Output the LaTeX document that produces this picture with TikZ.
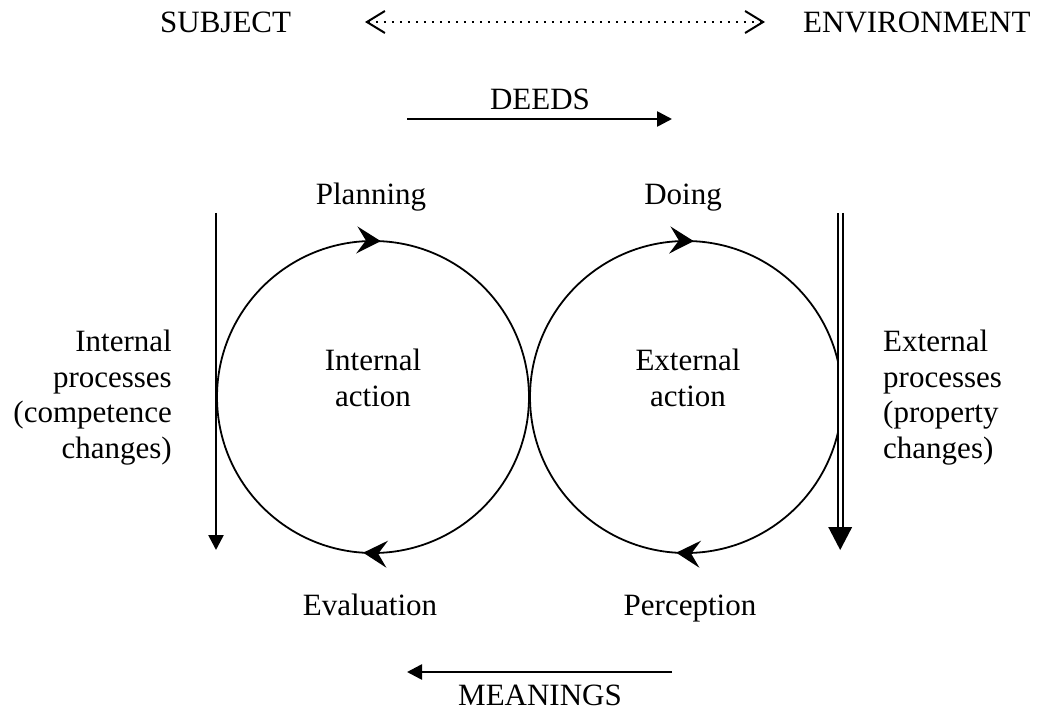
\documentclass[tikz,border=0pt]{standalone}
\usepackage{fontspec}
\setmainfont{Liberation Serif}
\usetikzlibrary{arrows.meta,decorations.markings}
\begin{document}
\begin{tikzpicture}[x=1pt,y=-1pt,
  lbl/.style={inner sep=0pt,font=\fontsize{31}{35.5}\selectfont},
  circ/.style={line width=1.8pt},
  cycmark/.style={postaction={decorate,decoration={markings,
     mark=at position #1 with {\arrow{Stealth[length=24pt,width=27pt,inset=9pt]}}}}},
  flow/.style={line width=2.6pt,-{Triangle[length=15pt,width=15pt]}}
]
\useasboundingbox (0,0) rectangle (1038,711);
% top labels
\node[lbl,anchor=base west] (subj) at (160,33) {SUBJECT};
\node[lbl,anchor=base west] (env) at (803,33) {ENVIRONMENT};
\coordinate (dl) at (365,22);
\coordinate (dr) at (765,22);
\draw[line width=2pt,dash pattern=on 2pt off 6pt,
  {Straight Barb[length=18pt,width=22pt,line width=2pt]}-{Straight Barb[length=18pt,width=22pt,line width=2pt]}] (dl) -- (dr);
% deeds
\node[lbl,anchor=base] (deeds) at (540,110) {DEEDS};
\coordinate (da) at (407,119);
\coordinate (db) at (672,119);
\draw[flow] (da) -- (db);
% circles
\coordinate (cl) at (373,397);
\coordinate (cr) at (686,397);
\draw[circ,cycmark=0.258,cycmark=0.760] (cl) ++(-156,0) arc[start angle=180,end angle=540,radius=156];
\draw[circ,cycmark=0.258,cycmark=0.760] (cr) ++(-156,0) arc[start angle=180,end angle=540,radius=156];
% labels on circles
\node[lbl,anchor=base] (plan) at (371,205) {Planning};
\node[lbl,anchor=base] (doing) at (683,205) {Doing};
\node[lbl,anchor=base] (eval) at (370,615) {Evaluation};
\node[lbl,anchor=base] (perc) at (690,615) {Perception};
\node[lbl,anchor=north,align=center] (ia) at (373,349) {Internal\\action};
\node[lbl,anchor=north,align=center] (ea) at (688,349) {External\\action};
% side labels
\node[lbl,anchor=north east,align=right] (ip) at (172,330) {Internal\\processes\\(competence\\changes)};
\node[lbl,anchor=north west,align=left] (ep) at (883,330) {External\\processes\\(property\\changes)};
% left vertical arrow
\coordinate (lt) at (216,213);
\coordinate (lb) at (216,550);
\draw[line width=2.6pt,-{Triangle[length=15pt,width=15pt]}] (lt) -- (lb);
% right double arrow
\coordinate (rt) at (840.2,213);
\coordinate (rm) at (840.2,529);
\coordinate (rb) at (840.2,550);
\draw[line width=1.8pt,double,double distance=3.2pt] (rt) -- (rm);
\fill (rb) -- ++(-12,-23) -- ++(24,0) -- cycle;
% meanings
\coordinate (ma) at (672,672);
\coordinate (mb) at (407,672);
\draw[flow] (ma) -- (mb);
\node[lbl,anchor=base] (mean) at (540,705) {MEANINGS};
\end{tikzpicture}
\end{document}
